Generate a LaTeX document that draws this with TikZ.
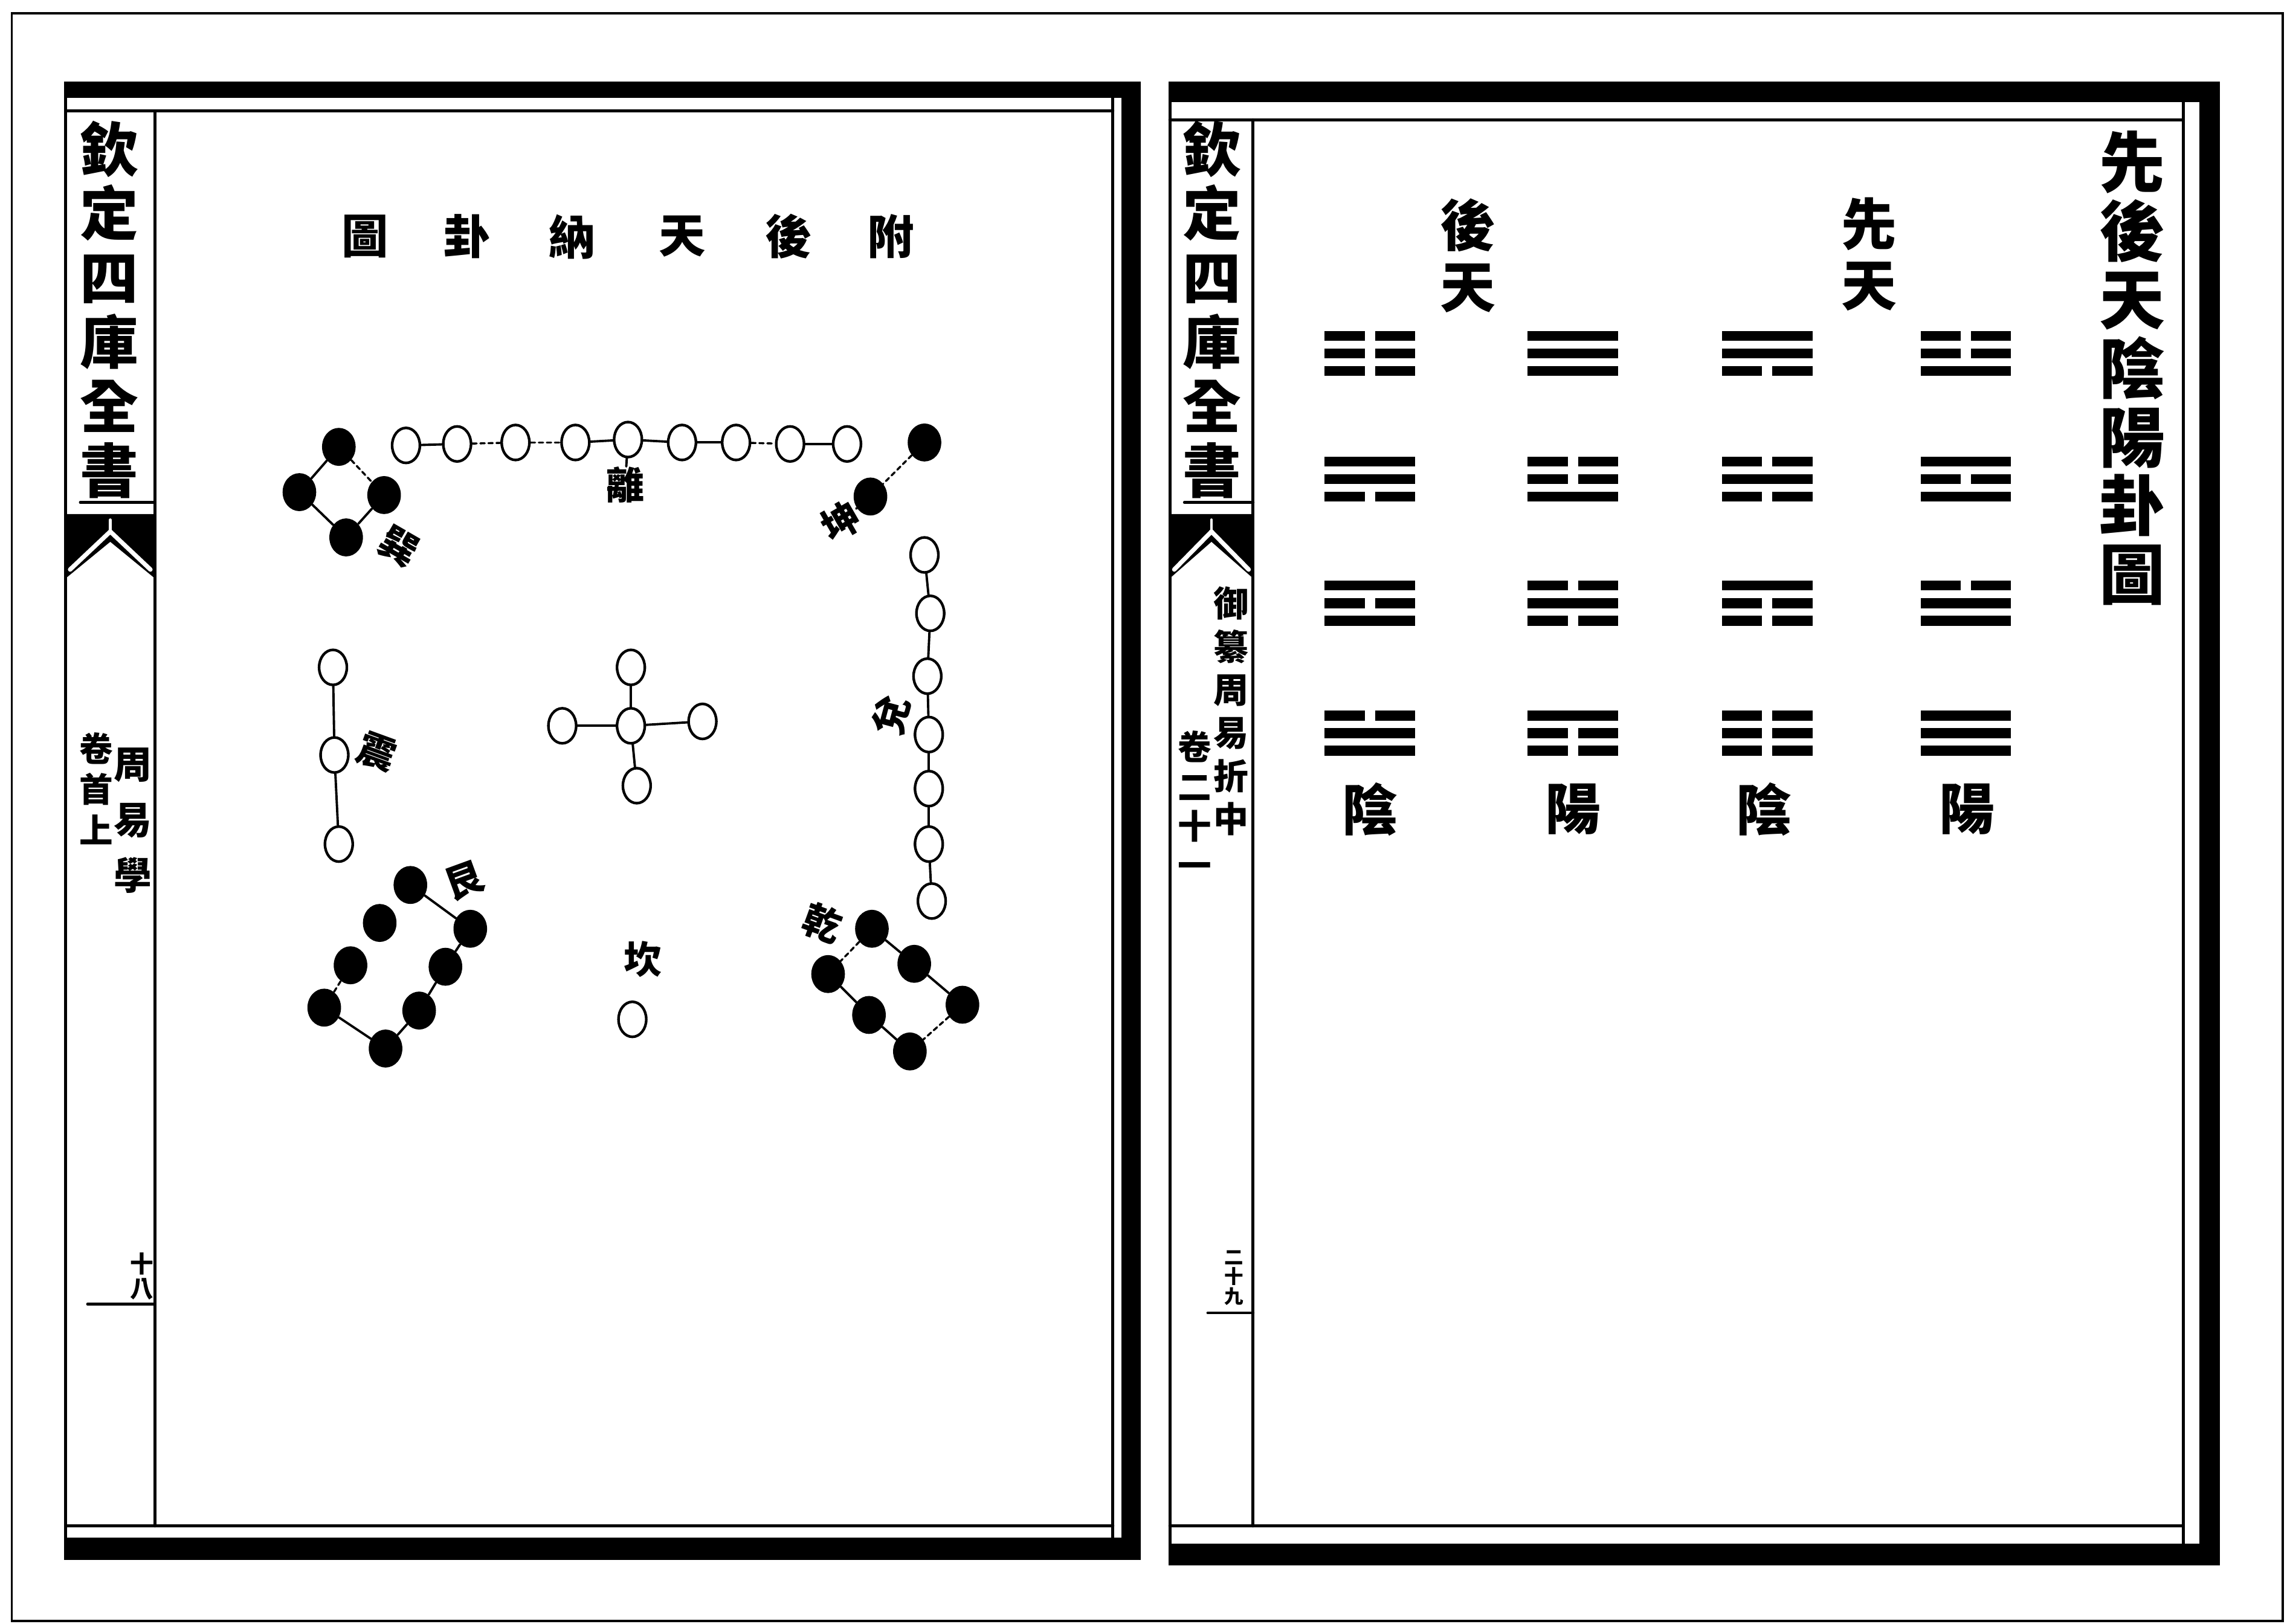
\documentclass[tikz,border=0pt]{standalone}
\usepackage{fontspec}
\newfontfamily\cjk{Noto Sans CJK TC}
\usetikzlibrary{shapes.geometric}

\tikzset{
  yang/.style={ellipse, draw, fill=white, line width=1.8pt, minimum width=19pt, minimum height=24pt, inner sep=0pt},
  yin/.style={ellipse, fill=black, minimum width=23pt, minimum height=26pt, inner sep=0pt},
  link/.style={line width=1.6pt},
  faint/.style={line width=1.4pt, dash pattern=on 3pt off 2.5pt},
  rule/.style={line width=2pt},
  hanzi/.style={font=\cjk\bfseries\fontsize{#1}{#1}\selectfont, inner sep=0pt},
  hanzi/.default=26,
  vtext/.style 2 args={font=\cjk\bfseries\fontsize{#1}{#2}\selectfont, align=center, inner sep=0pt},
}

% one trigram: x, y, top, middle, bottom line (1 solid, 0 broken)
\newcommand{\drawgua}[5]{%
  \foreach \bit [count=\row] in {#3,#4,#5} {
    \pgfmathsetmacro{\yy}{#2+(\row-2)*12}
    \ifnum\bit=1
      \fill (#1-31,\yy-3.4) rectangle (#1+31,\yy+3.4);
    \else
      \fill (#1-31,\yy-3.4) rectangle (#1-3.5,\yy+3.4);
      \fill (#1+3.5,\yy-3.4) rectangle (#1+31,\yy+3.4);
    \fi
  }
}

% fish tail mark of the spine: left x, right x, top y
\newcommand{\yuwei}[3]{%
  \pgfmathsetmacro{\mx}{(#1+#2)/2}
  \draw[rule] (#1+10,#3-8) -- (#2,#3-8);
  \fill (#1,#3) -- (#2,#3) -- (#2,#3+44) -- (\mx,#3+19) -- (#1,#3+44) -- cycle;
  \draw[white, line width=3pt] (#1+3,#3+38) -- (\mx,#3+12) -- (#2-3,#3+38);
  \draw[white, line width=2pt] (\mx,#3+12) -- (\mx,#3+4);
}

\begin{document}
\begin{tikzpicture}[x=1pt, y=-1pt, line cap=round]
\useasboundingbox (0,0) rectangle (1568,1112);

% scan border
\draw[line width=1.5pt] (8,9) rectangle (1563,1110);

% left page frame
\fill (44,56) rectangle (781,67);
\fill (768,56) rectangle (781,1068);
\fill (44,1053) rectangle (781,1068);
\draw[rule] (45,67) -- (45,1053);
\draw[rule] (45,76) -- (762,76);
\draw[rule] (106,76) -- (106,1045);
\draw[rule] (762,67) -- (762,1053);
\draw[rule] (45,1045) -- (762,1045);
\yuwei{45}{106}{352}
\draw[rule] (60,893) -- (106,893);

% right page frame
\fill (800,56) rectangle (1520,70);
\fill (1506,56) rectangle (1520,1072);
\fill (800,1057) rectangle (1520,1072);
\draw[rule] (801,70) -- (801,1057);
\draw[rule] (801,82) -- (1495,82);
\draw[rule] (858,82) -- (858,1045);
\draw[rule] (1495,70) -- (1495,1057);
\draw[rule] (801,1045) -- (1495,1045);
\yuwei{801}{858}{352}
\draw[rule] (827,899) -- (858,899);

% spines
\node[vtext={40}{44}] (lspine) at (75,212) {欽\\定\\四\\庫\\全\\書};
\node[vtext={40}{44}] (rspine) at (830,212) {欽\\定\\四\\庫\\全\\書};
\node[vtext={26}{38}] (lbook) at (91,562) {周\\易\\學};
\node[vtext={23}{28}] (lvol) at (66,540) {卷\\首\\上};
\node[vtext={16}{17}] (lpage) at (97,874) {十\\八};
\node[vtext={24}{29.5}] (rbook) at (843,487) {御\\纂\\周\\易\\折\\中};
\node[vtext={23}{27}] (rvol) at (818,551) {卷\\二\\十\\一};
\node[vtext={13}{13.5}] (rpage) at (845,875) {二\\十\\九};

% left page title, read from right to left
\foreach \ch/\xx in {圖/250,卦/320,納/392,天/467,後/540,附/610}
  \node[hanzi=32] (ltitle\xx) at (\xx,162) {\ch};

% right page title and headings
\node[vtext={45}{47}] (rtitle) at (1460,252) {先\\後\\天\\陰\\陽\\卦\\圖};
\node[vtext={38}{42}] (houtian) at (1005,175) {後\\天};
\node[vtext={38}{42}] (xiantian) at (1280,174) {先\\天};
\foreach \ch/\xx in {陰/938,陽/1077,陰/1208,陽/1347}
  \node[hanzi=38] (yy\xx) at (\xx,554) {\ch};

% trigrams: hou tian yin, hou tian yang, xian tian yin, xian tian yang
\foreach \gx/\gy/\lna/\lnb/\lnc in {
    938/242/0/0/0, 1077/242/1/1/1, 1210/242/1/1/0, 1346/242/0/0/1,
    938/328/1/1/0, 1077/328/0/0/1, 1210/328/0/1/0, 1346/328/1/0/1,
    938/413/1/0/1, 1077/413/0/1/0, 1210/413/1/0/0, 1346/413/0/1/1,
    938/502/0/1/1, 1077/502/1/0/0, 1210/502/0/0/0, 1346/502/1/1/1}
  \drawgua{\gx}{\gy}{\lna}{\lnb}{\lnc};

% najia diagram: dots
\foreach \xx/\yy [count=\i] in {278/305,313/304,353/303,394/303,430/301,467/303,504/303,541/304,580/304}
  \node[yang] (t\i) at (\xx,\yy) {};
\foreach \xx/\yy [count=\i] in {633/380,637/420,635/463,636/503,636/540,636/578,638/617}
  \node[yang] (r\i) at (\xx,\yy) {};
\foreach \xx/\yy [count=\i] in {228/457,229/517,232/578}
  \node[yang] (l\i) at (\xx,\yy) {};
\node[yang] (c0) at (432,497) {};
\node[yang] (cn) at (432,457) {};
\node[yang] (cs) at (436,538) {};
\node[yang] (cw) at (385,497) {};
\node[yang] (ce) at (481,494) {};
\node[yang] (s1) at (433,698) {};
\foreach \xx/\yy [count=\i] in {232/306,205/337,263/339,237/368}
  \node[yin] (a\i) at (\xx,\yy) {};
\node[yin] (b1) at (633,303) {};
\node[yin] (b2) at (596,340) {};
\foreach \xx/\yy [count=\i] in {281/606,322/636,260/632,305/662,240/661,287/692,222/690,264/718}
  \node[yin] (g\i) at (\xx,\yy) {};
\foreach \xx/\yy [count=\i] in {597/636,626/660,567/667,659/688,595/695,623/720}
  \node[yin] (k\i) at (\xx,\yy) {};

% labels
\node[hanzi, rotate=-30] (xun) at (273,374) {巽};
\node[hanzi] (li) at (428,332) {離};
\node[hanzi, rotate=30] (kun) at (576,357) {坤};
\node[hanzi, rotate=-20] (zhen) at (258,515) {震};
\node[hanzi, rotate=75] (dui) at (610,490) {兌};
\node[hanzi, rotate=20] (gen) at (318,603) {艮};
\node[hanzi, rotate=-20] (qian) at (563,632) {乾};
\node[hanzi] (kan) at (440,657) {坎};

% connectors
\foreach \i [evaluate=\i as \j using int(\i+1)] in {1,4,5,6,8}
  \draw[link] (t\i) -- (t\j);
\foreach \i [evaluate=\i as \j using int(\i+1)] in {2,3,7}
  \draw[faint] (t\i) -- (t\j);
\draw[link] (t5) -- (li);
\foreach \i [evaluate=\i as \j using int(\i+1)] in {1,...,6}
  \draw[link] (r\i) -- (r\j);
\draw[link] (l1) -- (l2);
\draw[link] (l2) -- (l3);
\foreach \arm in {cn,cs,cw,ce}
  \draw[link] (c0) -- (\arm);
\draw[link] (a1) -- (a2);
\draw[faint] (a1) -- (a3);
\draw[link] (a2) -- (a4);
\draw[link] (a3) -- (a4);
\draw[faint] (b1) -- (b2);
\draw[link] (b2) -- (kun);
\draw[link] (g1) -- (g2);
\draw[link] (g2) -- (g4);
\draw[link] (g4) -- (g6);
\draw[link] (g6) -- (g8);
\draw[link] (g8) -- (g7);
\draw[faint] (g7) -- (g5);
\draw[link] (k1) -- (k2);
\draw[link] (k2) -- (k4);
\draw[faint] (k1) -- (k3);
\draw[link] (k3) -- (k5);
\draw[link] (k5) -- (k6);
\draw[faint] (k4) -- (k6);

\end{tikzpicture}
\end{document}
